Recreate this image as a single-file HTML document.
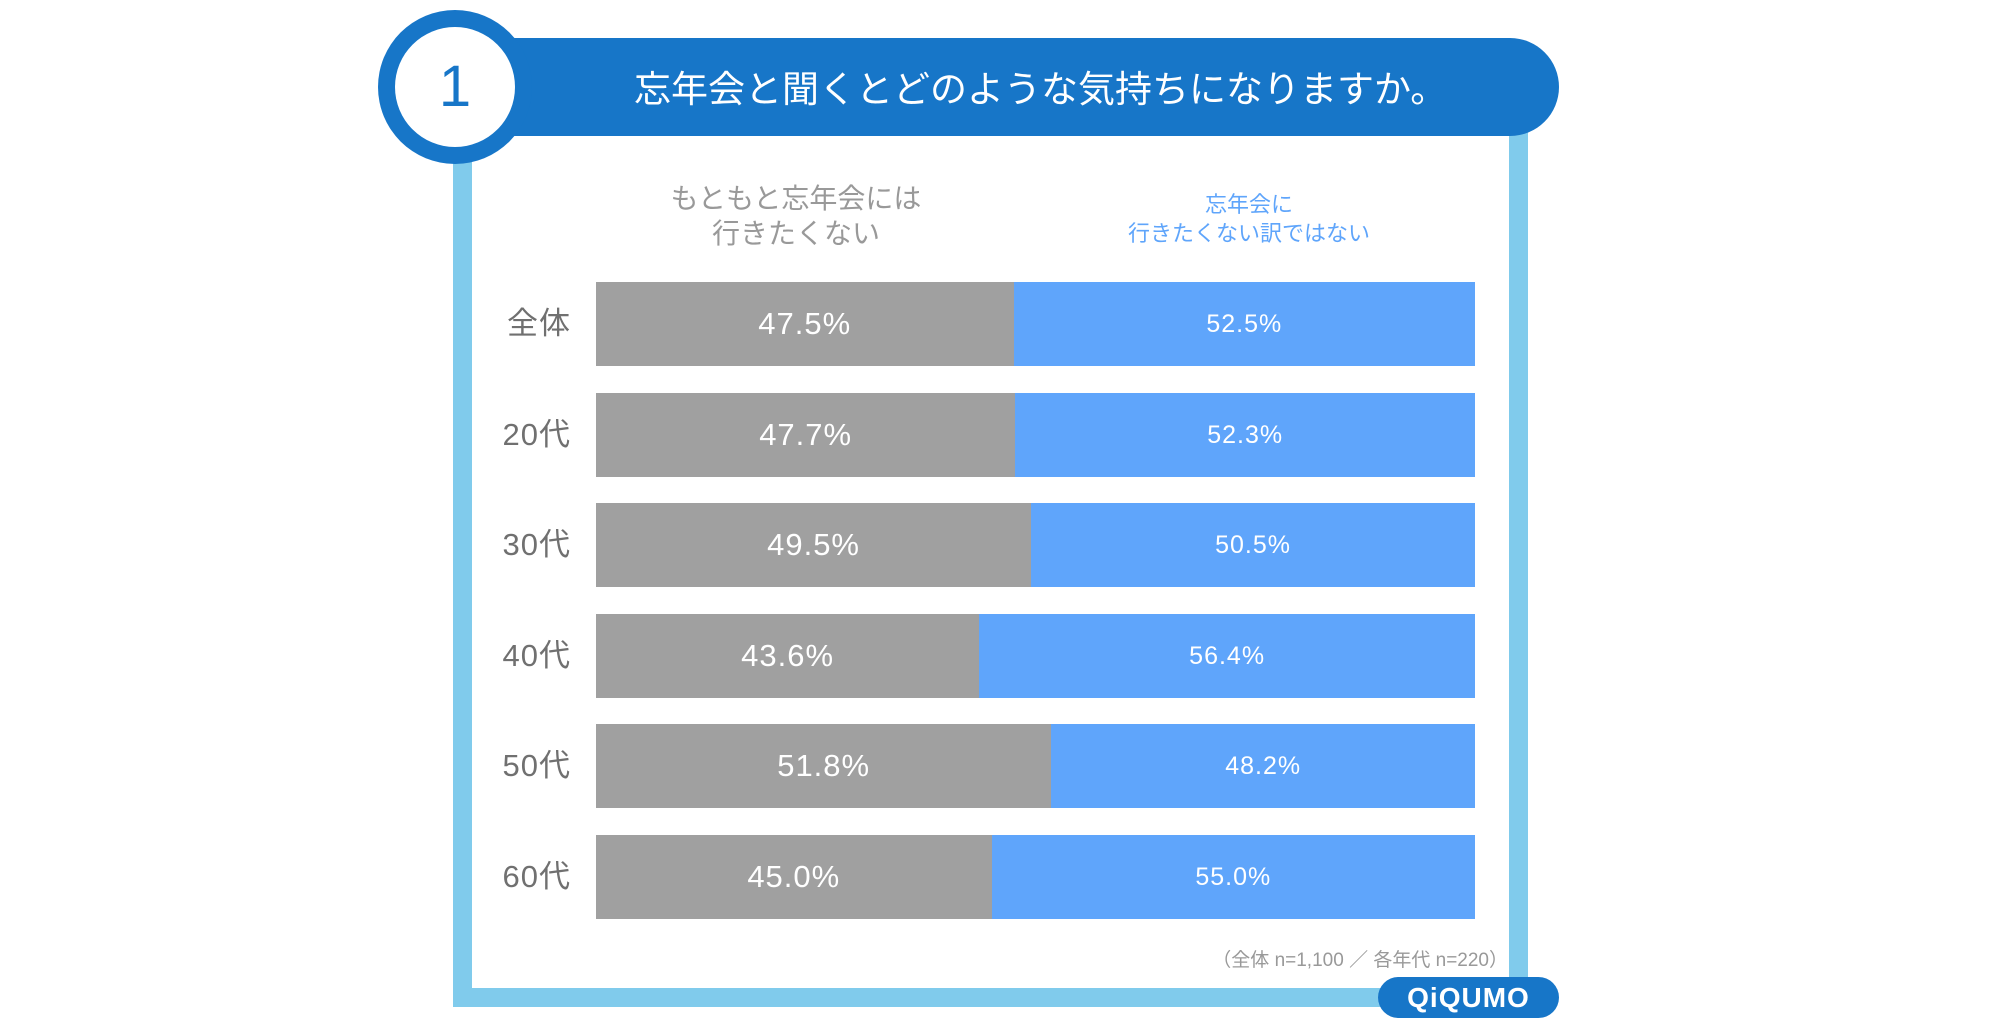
<!DOCTYPE html>
<html><head><meta charset="utf-8"><style>
body{margin:0;width:2000px;height:1030px;background:#fff;position:relative;overflow:hidden;font-family:"Liberation Sans","Noto Sans CJK JP",sans-serif}
.a{position:absolute}
.frame{left:453px;top:110px;width:1037px;height:878px;border:19px solid #80cbec;border-top:none}
.bar{position:absolute;height:84px;left:596px;width:879px;display:flex}
.g{background:#a0a0a0;color:#fff;font-size:31px;display:flex;align-items:center;justify-content:center;letter-spacing:1px}
.b{background:#5fa5fb;color:#fff;font-size:25px;display:flex;align-items:center;justify-content:center;flex:1;letter-spacing:1px}
.lab{position:absolute;right:1429px;font-size:31px;color:#707070;height:84px;line-height:84px;letter-spacing:1px}
</style></head><body>
<div class="a frame"></div>
<div class="a" style="left:455px;top:38px;width:1104px;height:98px;background:#1776c8;border-radius:0 49px 49px 0"></div>
<div class="a" style="left:378px;top:10px;width:154px;height:154px;border-radius:50%;background:#1776c8"></div>
<div class="a" style="left:395px;top:27px;width:120px;height:120px;border-radius:50%;background:#fff;color:#1776c8;font-size:58px;text-align:center;line-height:120px">1</div>
<div class="a" style="left:634px;top:65px;color:#fff;font-size:37px;line-height:50px;white-space:nowrap">忘年会と聞くとどのような気持ちになりますか。</div>
<div class="a" style="left:596px;top:181px;width:400px;text-align:center;color:#999;font-size:28px;line-height:35px">もともと忘年会には<br>行きたくない</div>
<div class="a" style="left:1049px;top:190px;width:400px;text-align:center;color:#5fa5fb;font-size:22px;line-height:29px">忘年会に<br>行きたくない訳ではない</div>

<div class="lab" style="top:282px">全体</div>
<div class="bar" style="top:282px"><div class="g" style="width:47.5%">47.5%</div><div class="b">52.5%</div></div>
<div class="lab" style="top:393px">20代</div>
<div class="bar" style="top:393px"><div class="g" style="width:47.7%">47.7%</div><div class="b">52.3%</div></div>
<div class="lab" style="top:503px">30代</div>
<div class="bar" style="top:503px"><div class="g" style="width:49.5%">49.5%</div><div class="b">50.5%</div></div>
<div class="lab" style="top:614px">40代</div>
<div class="bar" style="top:614px"><div class="g" style="width:43.6%">43.6%</div><div class="b">56.4%</div></div>
<div class="lab" style="top:724px">50代</div>
<div class="bar" style="top:724px"><div class="g" style="width:51.8%">51.8%</div><div class="b">48.2%</div></div>
<div class="lab" style="top:835px">60代</div>
<div class="bar" style="top:835px"><div class="g" style="width:45.0%">45.0%</div><div class="b">55.0%</div></div>

<div class="a" style="right:492px;top:945px;color:#999;font-size:19px;white-space:nowrap">（全体 n=1,100 ／ 各年代 n=220）</div>
<div class="a" style="left:1378px;top:977px;width:181px;height:41px;border-radius:21px;background:#1776c8;color:#fff;font-weight:bold;font-size:28px;text-align:center;line-height:41px;letter-spacing:1px">QiQUMO</div>
</body></html>
